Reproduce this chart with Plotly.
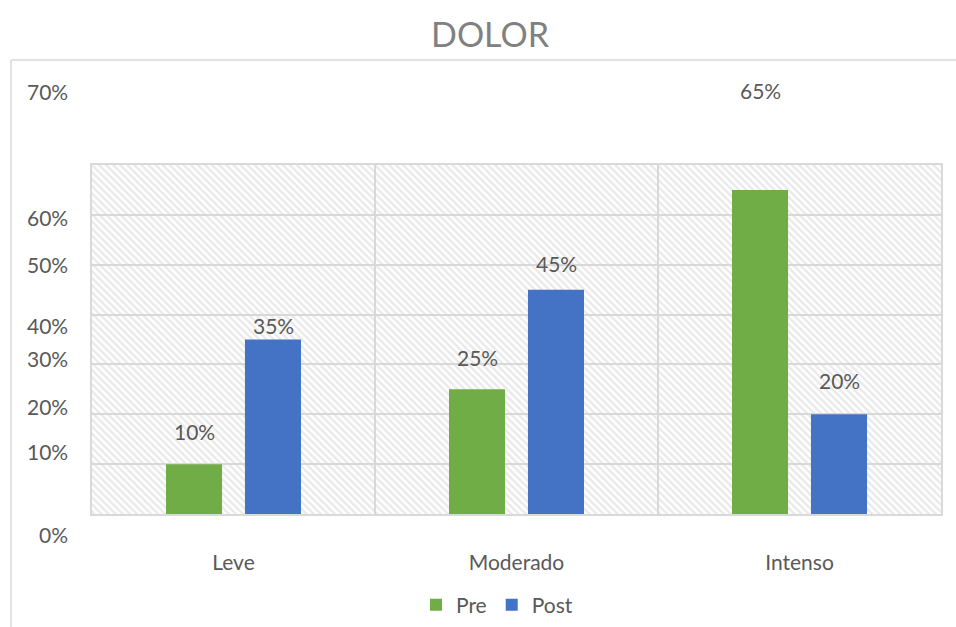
import plotly.graph_objects as go

# ---- data ----
categories = ["Leve", "Moderado", "Intenso"]
pre_values = [10, 25, 65]
post_values = [35, 45, 20]
series_names = ["Pre", "Post"]

y_max = 70
y_tick_labels = ["70%", "60%", "50%", "40%", "30%", "20%", "10%", "0%"]
# where the (misplaced) y tick labels sit, in axis units
y_tick_label_pos = [84.8, 59.4, 50.0, 37.8, 31.2, 21.6, 12.6, -4.2]
# vertical pixel offset of each value label above its bar top
pre_label_shift = [33, 32, 99]
post_label_shift = [14, 26, 34]

GREEN = "#70AD47"
BLUE = "#4472C4"
TXT = "#595959"
GRID = "#D9D9D9"
FONT = "Lato"

fig = go.Figure()

# patterned plot-area background
fig.add_trace(go.Bar(
    x=[categories[1]], y=[y_max], width=[3], offset=-1.5,
    marker=dict(color="rgba(0,0,0,0)", line=dict(width=0),
                pattern=dict(shape="\\", fgcolor="#D6D6D6", bgcolor="rgba(0,0,0,0)",
                             size=5, solidity=0.5)),
    showlegend=False, hoverinfo="skip",
))

fig.add_trace(go.Bar(
    x=categories, y=pre_values, name=series_names[0],
    width=0.198, offset=-0.2385,
    marker=dict(color=GREEN, line=dict(width=0)),
))
fig.add_trace(go.Bar(
    x=categories, y=post_values, name=series_names[1],
    width=0.198, offset=0.0405,
    marker=dict(color=BLUE, line=dict(width=0)),
))

annotations = []
for i, c in enumerate(categories):
    annotations.append(dict(x=c, y=pre_values[i], xref="x", yref="y",
                            text=f"{pre_values[i]}%", showarrow=False,
                            xshift=-39.5, yshift=pre_label_shift[i], yanchor="middle",
                            font=dict(family=FONT, size=21, color=TXT)))
    annotations.append(dict(x=c, y=post_values[i], xref="x", yref="y",
                            text=f"{post_values[i]}%", showarrow=False,
                            xshift=39.5, yshift=post_label_shift[i], yanchor="middle",
                            font=dict(family=FONT, size=21, color=TXT)))
for lab, pos in zip(y_tick_labels, y_tick_label_pos):
    annotations.append(dict(x=0, y=pos / y_max, xref="paper", yref="paper", text=lab,
                            showarrow=False, xanchor="right", yanchor="middle",
                            xshift=-22, font=dict(family=FONT, size=21, color=TXT)))

fig.update_layout(
    width=956, height=627,
    margin=dict(l=92, r=15, t=165, b=113, autoexpand=False),
    paper_bgcolor="white", plot_bgcolor="white",
    barmode="overlay",
    title=dict(text="DOLOR", x=490 / 956, xanchor="center", y=1 - 35 / 627,
               yanchor="middle", xref="container", yref="container",
               font=dict(family=FONT, size=34, color="#808080")),
    xaxis=dict(type="category", categoryorder="array", categoryarray=categories,
               tickson="boundaries", showgrid=True, gridcolor=GRID,
               gridwidth=1.5, showline=True, linecolor=GRID, linewidth=1.5, mirror=True,
               ticks="", ticklabelstandoff=29, range=[-0.5, 2.5],
               tickfont=dict(family=FONT, size=21, color=TXT), fixedrange=True),
    yaxis=dict(range=[0, y_max], dtick=10, showgrid=True, gridcolor=GRID, gridwidth=1.5,
               showline=True, linecolor=GRID, linewidth=1.5, mirror=True,
               showticklabels=False, zeroline=False, fixedrange=True),
    legend=dict(orientation="h", xanchor="center", x=497 / 956, xref="container",
                yanchor="middle", y=1 - 605 / 627, yref="container",
                font=dict(family=FONT, size=21, color=TXT), itemwidth=30,
                bgcolor="rgba(0,0,0,0)"),
    annotations=annotations,
    shapes=[
        dict(type="line", xref="paper", yref="paper", x0=(11 - 92) / 849, x1=1.2,
             y0=(514 - 60) / 349, y1=(514 - 60) / 349, line=dict(color=GRID, width=1.5)),
        dict(type="line", xref="paper", yref="paper", x0=(11 - 92) / 849, x1=(11 - 92) / 849,
             y0=(514 - 60) / 349, y1=-1, line=dict(color=GRID, width=1.5)),
    ],
)

fig.write_html("out.html", config={"displayModeBar": False},
               post_script="document.body.style.margin='0';document.body.style.overflow='hidden';")
